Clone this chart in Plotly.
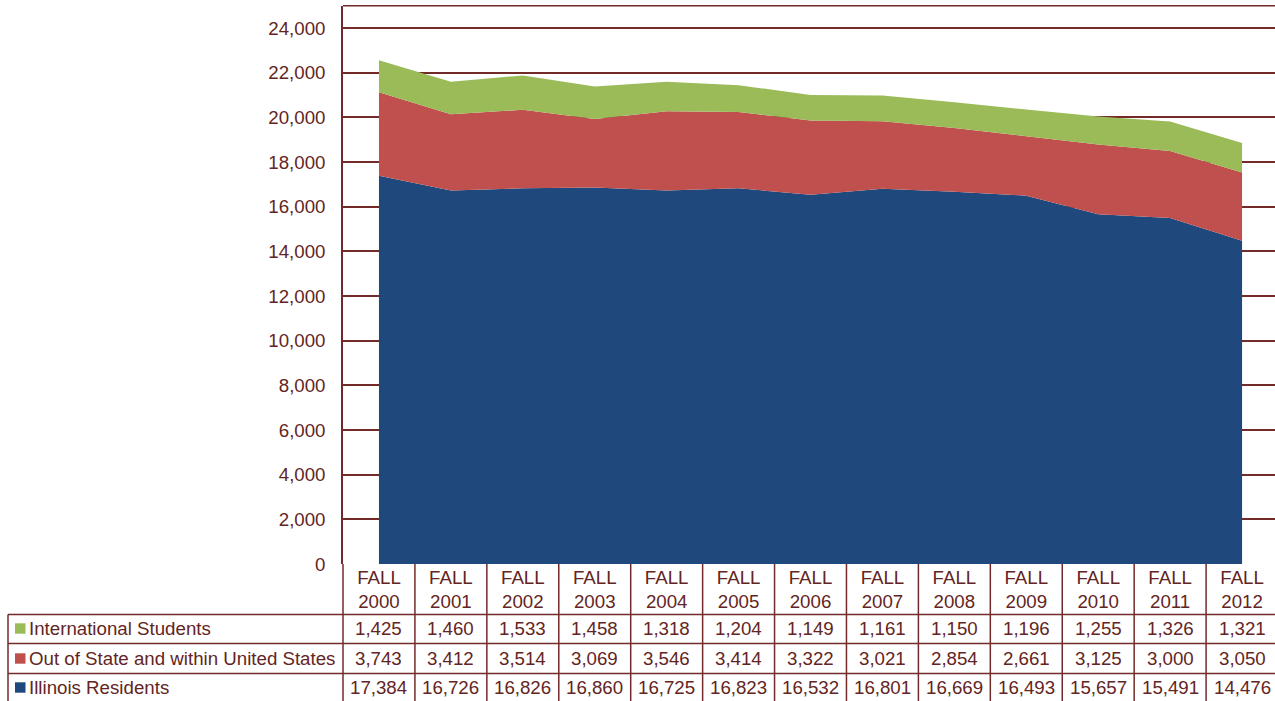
import plotly.graph_objects as go

categories = ["FALL 2000", "FALL 2001", "FALL 2002", "FALL 2003", "FALL 2004", "FALL 2005",
              "FALL 2006", "FALL 2007", "FALL 2008", "FALL 2009", "FALL 2010", "FALL 2011", "FALL 2012"]
illinois = [17384, 16726, 16826, 16860, 16725, 16823, 16532, 16801, 16669, 16493, 15657, 15491, 14476]
out_of_state = [3743, 3412, 3514, 3069, 3546, 3414, 3322, 3021, 2854, 2661, 3125, 3000, 3050]
international = [1425, 1460, 1533, 1458, 1318, 1204, 1149, 1161, 1150, 1196, 1255, 1326, 1321]
y_ticks = list(range(0, 24001, 2000))

W, H = 1275, 701
TEXT = "#632523"
LINE = "#732b29"
FONT = "Arial, Liberation Sans, sans-serif"
FS = 18.7
C_BLUE, C_RED, C_GREEN = "#1F497D", "#C0504D", "#9BBB59"

x_dom = [343 / W, 1.0]
x_rng = [-0.5, 12.458]
y_dom = [(H - 564) / H, (H - 5.7) / H]
y_rng = [0, 25000]

def py(p):
    return 1 - p / H

def xd_to_paper(xd):
    return x_dom[0] + (xd - x_rng[0]) / (x_rng[1] - x_rng[0]) * (x_dom[1] - x_dom[0])

xs = list(range(len(categories)))
series = [("Illinois Residents", illinois, C_BLUE),
          ("Out of State and within United States", out_of_state, C_RED),
          ("International Students", international, C_GREEN)]

fig = go.Figure()
for name, vals, col in series:
    fig.add_trace(go.Scatter(x=xs, y=vals, name=name, stackgroup="one", mode="none",
                             fillcolor=col, line=dict(width=0), hoverinfo="skip"))

ticktext = [c.replace(" ", "<br>") for c in categories]

shapes = []
shapes.append(dict(type="line", xref="paper", yref="paper", x0=x_dom[0], x1=1, y0=y_dom[1], y1=y_dom[1],
                   line=dict(color=LINE, width=1.5)))
for k in range(len(categories) + 1):
    xp = xd_to_paper(-0.5 + k)
    if xp > 1.0001:
        continue
    shapes.append(dict(type="line", xref="paper", yref="paper", x0=xp, x1=xp, y0=py(564), y1=0,
                       line=dict(color=LINE, width=1.5)))
shapes.append(dict(type="line", xref="paper", yref="paper", x0=8 / W, x1=8 / W, y0=py(614.5), y1=0,
                   line=dict(color=LINE, width=1.5)))
for yy in [614.5, 643.5, 673.5]:
    shapes.append(dict(type="line", xref="paper", yref="paper", x0=8 / W, x1=1, y0=py(yy), y1=py(yy),
                       line=dict(color=LINE, width=1.5)))

annotations = []
row_rows = [(628.5, "International Students", international, C_GREEN),
            (658.5, "Out of State and within United States", out_of_state, C_RED),
            (687.5, "Illinois Residents", illinois, C_BLUE)]
for yy, label, vals, col in row_rows:
    shapes.append(dict(type="rect", xref="paper", yref="paper", x0=15 / W, x1=25.5 / W,
                       y0=py(yy + 5.2), y1=py(yy - 5.2), fillcolor=col, line=dict(width=0)))
    annotations.append(dict(xref="paper", yref="paper", x=27 / W, y=py(yy), xanchor="left", yanchor="middle",
                            text=label, showarrow=False,
                            font=dict(family=FONT, size=FS, color=TEXT)))
    for i, v in enumerate(vals):
        annotations.append(dict(xref="x", yref="paper", x=i, y=py(yy), xanchor="center", yanchor="middle",
                                text=f"{v:,}", showarrow=False,
                                font=dict(family=FONT, size=FS, color=TEXT)))

fig.update_layout(
    template="none",
    width=W, height=H, autosize=False, margin=dict(l=0, r=0, t=0, b=0, pad=0),
    paper_bgcolor="white", plot_bgcolor="white", showlegend=False,
    font=dict(family=FONT, size=FS, color=TEXT),
    xaxis=dict(domain=x_dom, range=x_rng, tickvals=xs, ticktext=ticktext, showgrid=False,
               zeroline=False, showline=False, ticks="", tickfont=dict(size=FS, color=TEXT),
               fixedrange=True, automargin=False),
    yaxis=dict(domain=y_dom, range=y_rng, tickvals=y_ticks, tickformat=",d", showgrid=True,
               gridcolor=LINE, gridwidth=1.5, zeroline=False, showline=True, linecolor=LINE,
               linewidth=1.5, ticks="", ticklabelstandoff=12, tickfont=dict(size=FS, color=TEXT),
               fixedrange=True, automargin=False),
    shapes=shapes, annotations=annotations,
)

fig.write_html("out.html", config={"displayModeBar": False},
               post_script="document.documentElement.style.margin='0';document.body.style.margin='0';")
